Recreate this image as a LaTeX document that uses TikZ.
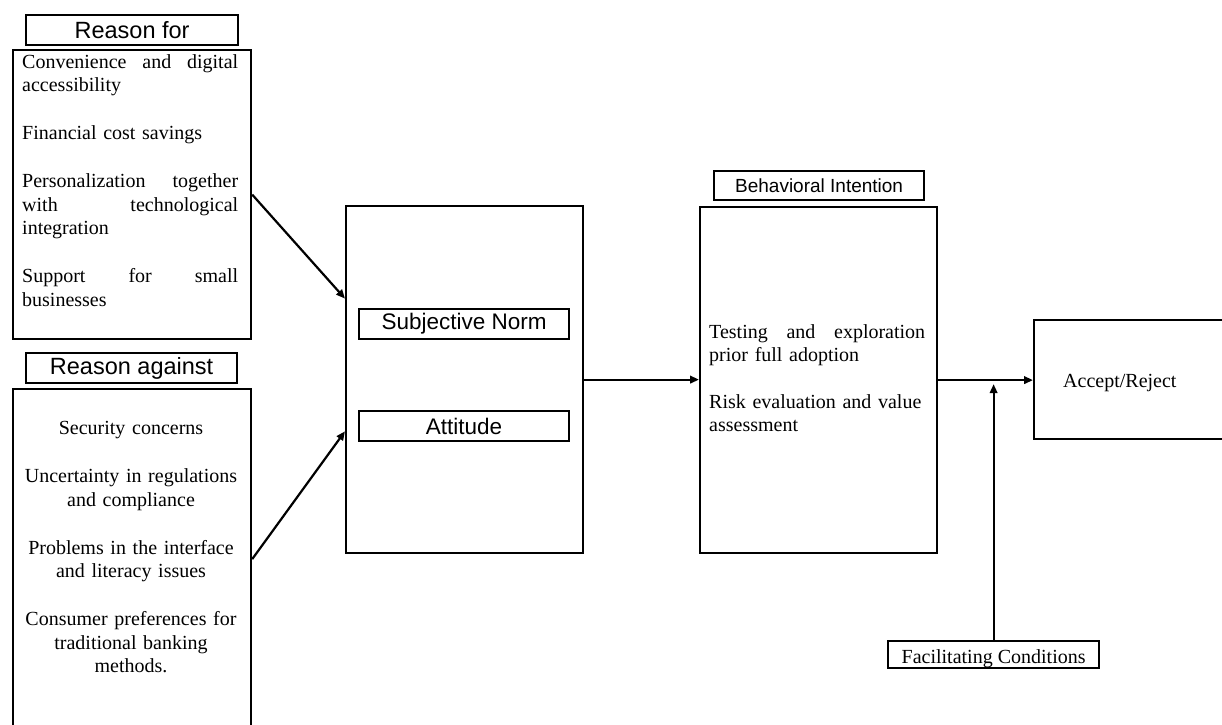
\documentclass[tikz,border=0pt]{standalone}
\usepackage{fontspec}
\setmainfont{Liberation Serif}
\newfontfamily\titlefont{Liberation Sans}
\usetikzlibrary{arrows.meta,calc}
\newcommand{\jline}[1]{\leavevmode\hbox to 216pt{#1}}
\begin{document}
\begin{tikzpicture}[x=1pt,y=-1pt,
  box/.style={draw,line width=2.2pt,rectangle,inner sep=0pt,anchor=north west},
  tbox/.style={box,font=\titlefont\fontsize{23.5}{27}\selectfont},
  ibox/.style={box,font=\titlefont\fontsize{22.5}{27}\selectfont},
  body/.style={inner sep=0pt,anchor=north west,font=\fontsize{20}{23.5}\selectfont},
  conn/.style={line width=2.2pt,-{Triangle[length=9pt,width=7.5pt]}}
]
\fill[white] (0,0) rectangle (1222,724);
\useasboundingbox (0,0) rectangle (1222,724);

% left column
\node[tbox,minimum width=212pt,minimum height=30pt] (rfT) at (25,14) {Reason for};
\node[box,minimum width=238pt,minimum height=289pt] (rf) at (12,49) {};
\node[body,text width=216pt,align=left] (rftext) at (22,54.3) {%
\jline{Convenience\hfill and\hfill digital}\\
accessibility\\[24.5pt]
Financial cost savings\\[24.5pt]
\jline{Personalization\hfill together}\\
\jline{with\hfill technological}\\
integration\\[24.5pt]
\jline{Support\hfill for\hfill small}\\
businesses};

\node[tbox,minimum width=211pt,minimum height=30pt] (raT) at (25,352) {Reason against};
\node[box,minimum width=238pt,minimum height=340pt] (ra) at (12,388) {};
\node[body,text width=236pt,align=center,anchor=north] (ratext) at (131,421.4) {%
Security concerns\\[24.5pt]
Uncertainty in regulations\\
and compliance\\[24.5pt]
Problems in the interface\\
and literacy issues\\[24.5pt]
Consumer preferences for\\
traditional banking\\
methods.};

% central box
\node[box,minimum width=237pt,minimum height=347pt] (cm) at (345,205) {};
\node[ibox,minimum width=210pt,minimum height=30pt] (sn) at (358,308) {Subjective Norm};
\node[ibox,minimum width=210pt,minimum height=30pt] (at) at (358,410) {Attitude};

% behavioral intention
\node[box,minimum width=210pt,minimum height=29pt,font=\titlefont\fontsize{19}{23}\selectfont] (biT) at (713,170) {Behavioral Intention};
\node[box,minimum width=237pt,minimum height=346pt] (bi) at (699,206) {};
\node[body,text width=216pt,align=left] (bitext) at (709,324.3) {%
\jline{Testing\hfill and\hfill exploration}\\
prior full adoption\\[23pt]
Risk evaluation and value\\
assessment};

% accept / reject
\node[box,minimum width=195pt,minimum height=119pt] (ar) at (1033,319) {};
\node[inner sep=0pt,anchor=base west,font=\fontsize{20}{23.5}\selectfont] (artext) at (1063,387) {Accept/Reject};

% facilitating conditions
\node[box,minimum width=211pt,minimum height=27pt,font=\fontsize{20}{23.5}\selectfont,text height=18pt,text depth=0pt] (fc) at (887,640) {Facilitating Conditions};

% connectors
\draw[conn] (rf.east) -- ($(cm.north west)!0.268!(cm.south west)$);
\draw[conn] (ra.east) -- ($(cm.north west)!0.648!(cm.south west)$);
\draw[conn] (cm.east) -- (cm.east -| bi.west);
\draw[conn] (bi.east) -- (bi.east -| ar.west);
\coordinate (jn) at ($(fc.north |- bi.east)+(0,4)$);
\draw[conn] (fc.north) -- (jn);
\end{tikzpicture}
\end{document}
